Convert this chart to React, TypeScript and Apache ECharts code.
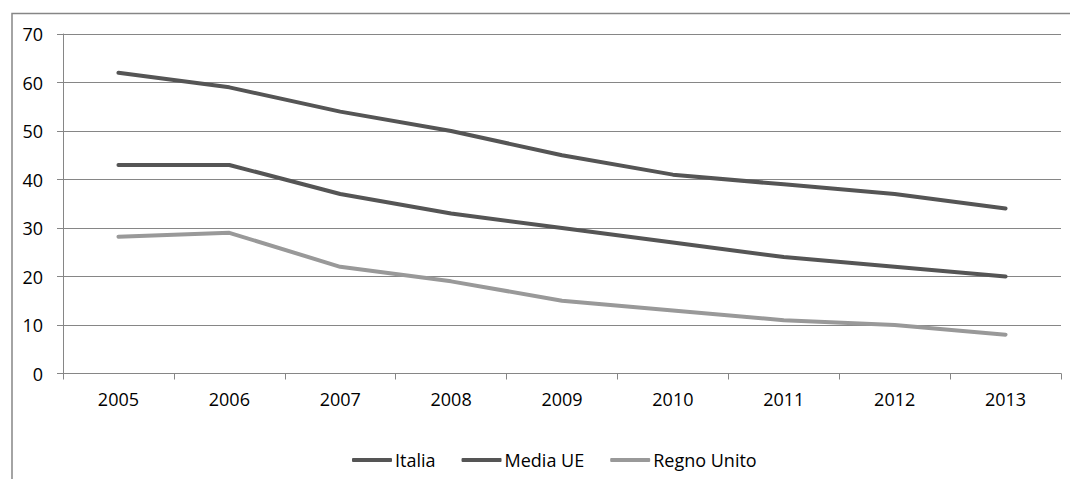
import React, { useEffect, useRef } from "react";
import * as echarts from "echarts";

const years = ["2005", "2006", "2007", "2008", "2009", "2010", "2011", "2012", "2013"];
const italia = [62, 59, 54, 50, 45, 41, 39, 37, 34];
const mediaUE = [43, 43, 37, 33, 30, 27, 24, 22, 20];
const regnoUnito = [28.2, 29, 22, 19, 15, 13, 11, 10, 8];

const FONT = "'Open Sans', 'DejaVu Sans', sans-serif";
const GRID = "#868686";

export default function App() {
  const ref = useRef<HTMLDivElement>(null);
  useEffect(() => {
    if (!ref.current) return;
    const chart = echarts.init(ref.current, undefined, { renderer: "svg" });
    const mkSeries = (name: string, data: number[], color: string) => ({
      name,
      type: "line",
      data,
      symbol: "none",
      showSymbol: false,
      color,
      lineStyle: { width: 4, color, cap: "round", join: "round" },
    });
    chart.setOption({
      animation: false,
      backgroundColor: "#ffffff",
      textStyle: { fontFamily: FONT },
      graphic: [
        {
          type: "rect",
          shape: { x: 12, y: 13.5, width: 1200, height: 600 },
          style: { fill: "none", stroke: GRID, lineWidth: 1.5 },
          silent: true,
        },
      ],
      grid: { left: 63, top: 34, right: 9, bottom: 105.5, containLabel: false },
      legend: {
        bottom: 5,
        left: 347,
        icon: "roundRect",
        itemWidth: 40,
        itemHeight: 4,
        itemGap: 26,
        textStyle: { fontFamily: FONT, fontSize: 18, color: "#000", padding: [0, 0, 0, -2] },
        data: ["Italia", "Media UE", "Regno Unito"],
      },
      xAxis: {
        type: "category",
        data: years,
        boundaryGap: true,
        axisLine: { show: true, lineStyle: { color: GRID, width: 1 } },
        axisTick: { show: true, length: 6, lineStyle: { color: GRID } },
        axisLabel: { fontFamily: FONT, fontSize: 18, color: "#000", margin: 16 },
        splitLine: { show: false },
      },
      yAxis: {
        type: "value",
        min: 0,
        max: 70,
        interval: 10,
        axisLine: { show: true, lineStyle: { color: GRID, width: 1 } },
        axisTick: { show: true, length: 6, lineStyle: { color: GRID } },
        axisLabel: { fontFamily: FONT, fontSize: 18, color: "#000", margin: 20 },
        splitLine: { show: true, lineStyle: { color: GRID, width: 1 } },
      },
      series: [
        mkSeries("Italia", italia, "#555555"),
        mkSeries("Media UE", mediaUE, "#555555"),
        mkSeries("Regno Unito", regnoUnito, "#999999"),
      ],
    });
    return () => chart.dispose();
  }, []);
  return (
    <div
      ref={ref}
      style={{ position: "absolute", left: 0, top: 0, width: 1070, height: 479 }}
    />
  );
}
